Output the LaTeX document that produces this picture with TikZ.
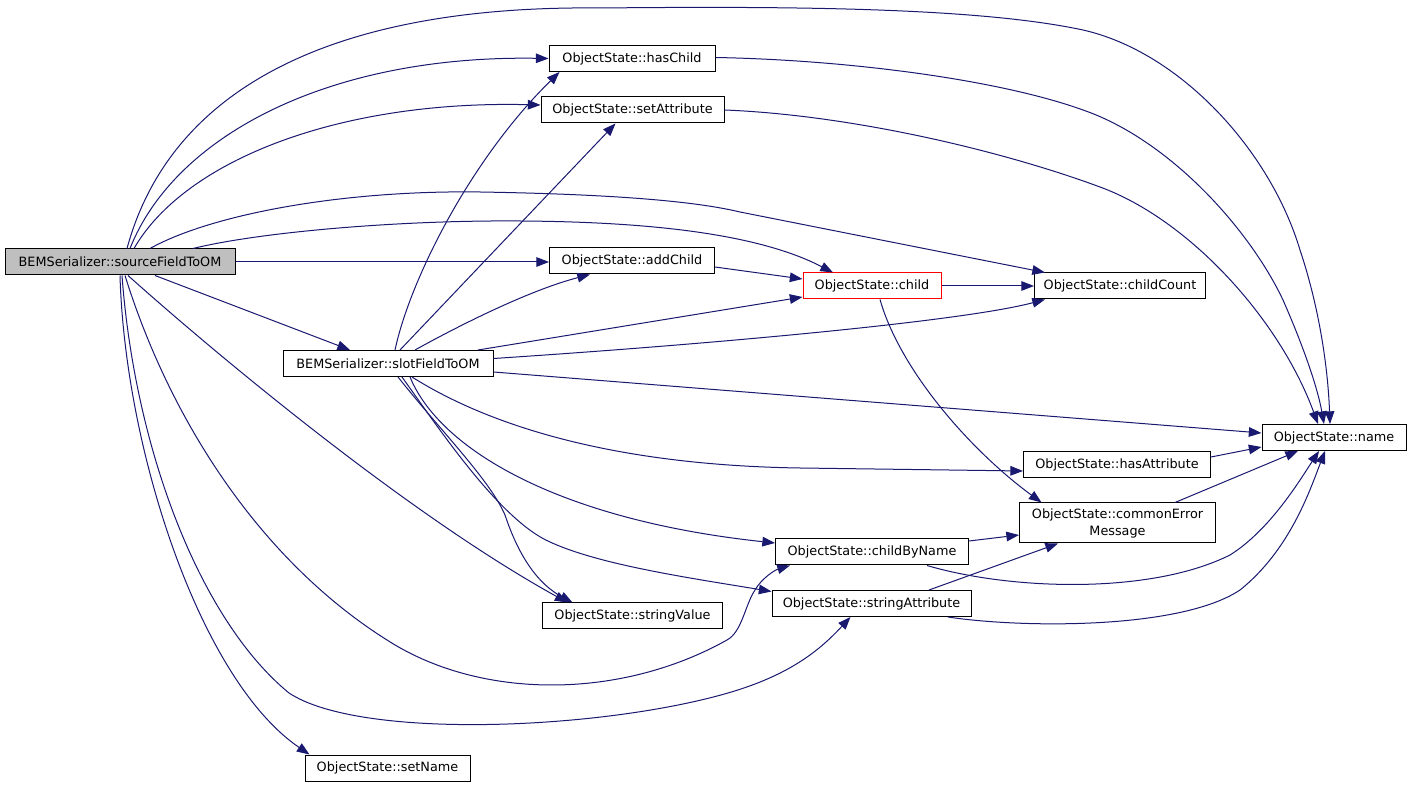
\documentclass[tikz,border=0pt]{standalone}
\usepackage{fontspec}
\setmainfont{DejaVu Sans}
\usetikzlibrary{arrows.meta,calc}
\definecolor{edgeblue}{HTML}{191970}
\definecolor{nodegray}{HTML}{BFBFBF}
\begin{document}
\begin{tikzpicture}[x=0.75pt,y=-0.75pt,
  box/.style={draw=black, fill=white, line width=0.75pt, inner sep=0pt, minimum height=19.5pt,
              font=\fontsize{9.6}{12.75}\selectfont, align=center},
  edge/.style={draw=edgeblue, line width=0.75pt, -{Triangle[length=9.5pt,width=7.2pt]}}]
\fill[white] (0,0) rectangle (1411,787);
\useasboundingbox (0,0) rectangle (1411,787);

% nodes
\node[box, fill=nodegray, minimum width=172.5pt] (S) at (120,262) {BEMSerializer::sourceFieldToOM};
\node[box, minimum width=157.5pt] (F) at (388,363.5) {BEMSerializer::slotFieldToOM};
\node[box, minimum width=124.5pt] (hasChild) at (632,58.5) {ObjectState::hasChild};
\node[box, minimum width=137.25pt] (setAttr) at (632.5,110) {ObjectState::setAttribute};
\node[box, minimum width=123.75pt] (addChild) at (632,261) {ObjectState::addChild};
\node[box, draw=red, minimum width=103.5pt] (child) at (872,286) {ObjectState::child};
\node[box, minimum width=128.25pt] (childCount) at (1120,286) {ObjectState::childCount};
\node[box, minimum width=108pt] (name) at (1334,437.5) {ObjectState::name};
\node[box, minimum width=140.25pt] (hasAttr) at (1117,465) {ObjectState::hasAttribute};
\node[box, minimum width=147pt, minimum height=30pt] (cem) at (1117.5,523) {ObjectState::commonError\\Message};
\node[box, minimum width=144.75pt] (childByName) at (872,552) {ObjectState::childByName};
\node[box, minimum width=149.25pt] (strAttr) at (871.5,603.5) {ObjectState::stringAttribute};
\node[box, minimum width=135pt] (strVal) at (632.5,616) {ObjectState::stringValue};
\node[box, minimum width=123.75pt] (setName) at (387.5,768) {ObjectState::setName};

% edges from sourceFieldToOM
\draw[edge] ($(S.north)+(7,0)$) .. controls (170,90) and (330,5) .. (600,8)
   .. controls (800,6) and (980,8) .. (1083,30)
   .. controls (1180,52) and (1270,150) .. (1300,250)
   .. controls (1320,310) and (1328,370) .. ($(name.north)+(-4,0)$);
\draw[edge] ($(S.north)+(10,0)$) .. controls (175,135) and (330,55) .. (hasChild.west);
\draw[edge] ($(S.north)+(14,0)$) .. controls (185,160) and (340,100) .. ($(setAttr.west)+(0,-5)$);
\draw[edge] ($(S.north)+(30,0)$) .. controls (210,215) and (340,190) .. (480,192)
   .. controls (600,194) and (690,200) .. (740,212) -- ($(childCount.north)+(-75,0)$);
\draw[edge] ($(S.north)+(73,0)$) .. controls (260,232) and (400,220) .. (520,221)
   .. controls (680,222) and (770,240) .. ($(child.north)+(-39,0)$);
\draw[edge] (S.east) -- (S.east -| addChild.west);
\draw[edge] ($(S.south)+(35,0)$) -- ($(F.north)+(-38,0)$);
\draw[edge] ($(S.south)+(8,0)$) .. controls (200,340) and (400,510) .. ($(strVal.north)+(-65,0)$);
\draw[edge] ($(S.south)+(5,0)$) .. controls (170,420) and (260,560) .. (387,640)
   .. controls (480,700) and (620,700) .. (727,640)
   .. controls (742,632) and (745,605) .. (755,590)
   .. controls (762,578) and (775,570) .. ($(childByName.south)+(-82,0)$);
\draw[edge] ($(S.south)+(2,0)$) .. controls (135,450) and (200,620) .. (289,693)
   .. controls (360,740) and (600,730) .. (728,693)
   .. controls (790,675) and (820,650) .. ($(strAttr.south)+(-21,0)$);
\draw[edge] (S.south) .. controls (125,450) and (200,680) .. ($(setName.north west)+(5,0)$);

% edges from slotFieldToOM
\draw[edge] ($(F.north)+(7,0)$) .. controls (410,280) and (470,160) .. ($(hasChild.south west)+(11,0)$);
\draw[edge] ($(F.north)+(12,0)$) -- ($(setAttr.south)+(-17,0)$);
\draw[edge] ($(F.north)+(27,0)$) .. controls (460,325) and (530,290) .. ($(addChild.south)+(-42,0)$);
\draw[edge] ($(F.north)+(90,0)$) -- ($(child.west)+(0,11)$);
\draw[edge] ($(F.east)+(0,-5)$) .. controls (700,345) and (960,322) .. ($(childCount.south)+(-75,0)$);
\draw[edge] ($(F.east)+(0,8.5)$) -- ($(name.west)+(0,-4.5)$);
\draw[edge] ($(F.south)+(24,0)$) .. controls (480,420) and (600,465) .. (800,468) -- ($(hasAttr.west)+(0,6)$);
\draw[edge] ($(F.south)+(22,0)$) .. controls (440,450) and (560,520) .. ($(childByName.west)+(0,-9)$);
\draw[edge] ($(F.south)+(14,0)$) .. controls (440,430) and (500,520) .. (550,542)
   .. controls (600,565) and (690,578) .. ($(strAttr.west)+(0,-12)$);
\draw[edge] ($(F.south)+(10,0)$) .. controls (440,430) and (490,480) .. (505,515)
   .. controls (520,560) and (540,585) .. ($(strVal.north)+(-60,0)$);

% other edges
\draw[edge] (child.east) -- (childCount.west);
\draw[edge] ($(child.south)+(8,0)$) .. controls (900,370) and (970,450) .. ($(cem.north)+(-76,0)$);
\draw[edge] ($(addChild.east)+(0,6)$) -- ($(child.west)+(0,-7)$);
\draw[edge] ($(hasChild.east)+(0,-1)$) .. controls (850,60) and (1000,80) .. (1083,110)
   .. controls (1170,140) and (1250,230) .. (1283,300)
   .. controls (1305,350) and (1318,390) .. ($(name.north)+(-10,0)$);
\draw[edge] (setAttr.east) .. controls (850,115) and (1000,150) .. (1100,187)
   .. controls (1190,220) and (1280,320) .. ($(name.north)+(-16,0)$);
\draw[edge] ($(hasAttr.east)+(0,-8)$) -- ($(name.west)+(0,9.5)$);
\draw[edge] ($(cem.north)+(57.5,0)$) -- ($(name.south)+(-36,0)$);
\draw[edge] ($(childByName.east)+(0,-11)$) -- ($(cem.west)+(0,12)$);
\draw[edge] ($(childByName.south)+(55,0)$) .. controls (1010,590) and (1150,595) .. (1230,555)
   .. controls (1270,530) and (1300,480) .. ($(name.south)+(-15,0)$);
\draw[edge] ($(strAttr.north)+(57.5,0)$) -- ($(cem.south)+(-59.5,0)$);
\draw[edge] ($(strAttr.south)+(76.5,0)$) .. controls (1020,628) and (1180,630) .. (1240,590)
   .. controls (1290,550) and (1310,490) .. ($(name.south)+(-9,0)$);
\end{tikzpicture}
\end{document}
